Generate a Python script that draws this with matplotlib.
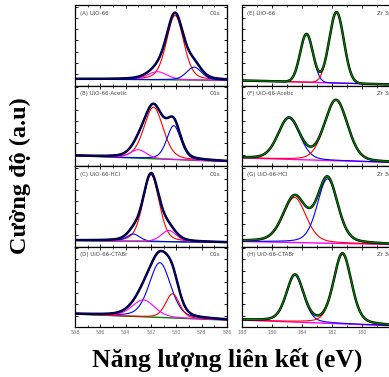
import numpy as np
import matplotlib
matplotlib.use("Agg")
import matplotlib.pyplot as plt
from matplotlib.ticker import MultipleLocator, NullFormatter

# O1s fits (left column): peak centre (eV), height, FWHM (eV) for each component
o1s_labels = ["(A) UiO-66", "(B) UiO-66-Acetic", "(C) UiO-66-HCl", "(D) UiO-66-CTABr"]
o1s_centers = [[530.1, 531.5, 528.6], [531.8, 530.2, 533.0],
               [532.0, 533.4, 530.6], [531.3, 530.3, 532.6]]
o1s_heights = [[0.80, 0.10, 0.16], [0.64, 0.42, 0.105],
               [0.83, 0.09, 0.14], [0.68, 0.30, 0.21]]
o1s_fwhm = [[1.6, 1.8, 1.4], [1.8, 1.3, 1.5],
            [1.5, 1.2, 1.4], [2.0, 1.3, 2.1]]
o1s_bg = [(0.08, 0.065), (0.127, 0.056), (0.075, 0.05), (0.16, 0.086)]
o1s_mix = [0.3, 0.3, 0.3, 0.3]

# Zr 3d fits (right column)
zr_labels = ["(E) UiO-66", "(F) UiO-66-Acetic", "(G) UiO-66-HCl", "(H) UiO-66-CTABr"]
zr_centers = [[183.7, 181.7], [184.87, 181.73], [184.5, 182.3], [184.47, 181.3]]
zr_heights = [[0.60, 0.88], [0.51, 0.75], [0.56, 0.80], [0.58, 0.87]]
zr_fwhm = [[1.0, 1.15], [1.7, 1.8], [1.8, 1.6], [1.35, 1.4]]
zr_bg = [(0.0625, 0.0125), (0.10, 0.045), (0.0625, 0.025), (0.086, 0.016)]
zr_mix = [0.0, 0.2, 0.3, 0.3]

o1s_colors = [["red", "magenta", "blue"], ["red", "blue", "magenta"],
              ["red", "blue", "magenta"], ["blue", "red", "magenta"]]
zr_colors = [["blue", "red"], ["blue", "red"], ["red", "blue"], ["blue", "red"]]


def pv(x, c, h, w, eta):
    sig = w / 2.3548
    g = np.exp(-(x - c) ** 2 / (2 * sig ** 2))
    l = 1.0 / (1.0 + ((x - c) / (w / 2)) ** 2)
    return h * (eta * l + (1 - eta) * g)


W, H = 389, 377
fig = plt.figure(figsize=(W / 100, H / 100), dpi=100)

row_top, row_h = 5, 80.5


def make_ax(px_left, px_width, row):
    top = row_top + row * row_h
    return fig.add_axes([px_left / W, 1 - (top + row_h) / H, px_width / W, row_h / H])


def style(ax, last):
    ax.tick_params(direction="in", top=True, right=True, length=2, width=0.6,
                   labelsize=3.5, labelcolor="#777777", pad=2)
    ax.tick_params(which="minor", direction="in", top=True, right=True, length=1.2, width=0.5)
    ax.xaxis.set_major_locator(MultipleLocator(2))
    ax.xaxis.set_minor_locator(MultipleLocator(1))
    ax.yaxis.set_major_locator(MultipleLocator(0.14))
    ax.yaxis.set_major_formatter(NullFormatter())
    if not last:
        ax.xaxis.set_major_formatter(NullFormatter())
    for s in ax.spines.values():
        s.set_linewidth(0.9)
    ax.set_ylim(0, 1)


x1 = np.linspace(538, 526, 600)
x2 = np.linspace(188, 178, 600)

for i in range(4):
    # O1s panel
    ax = make_ax(75, 152, i)
    bg = o1s_bg[i][0] + (o1s_bg[i][1] - o1s_bg[i][0]) * (538 - x1) / 12
    total = bg.copy()
    comps = []
    for c, h, w in zip(o1s_centers[i], o1s_heights[i], o1s_fwhm[i]):
        p = pv(x1, c, h, w, o1s_mix[i])
        comps.append(p)
        total += p
    ax.plot(x1, bg, color="#008000", lw=1.0)
    for p, col in zip(comps, o1s_colors[i]):
        ax.plot(x1, bg + p, color=col, lw=0.8)
    ax.plot(x1, total, color="black", lw=1.8)
    ax.plot(x1, total, color="#000080", lw=1.0)
    ax.set_xlim(538, 526)
    style(ax, i == 3)
    ax.text(0.03, 0.9, o1s_labels[i], transform=ax.transAxes, fontsize=4, color="#444444", va="center")
    ax.text(0.955, 0.9, "O1s", transform=ax.transAxes, fontsize=4, color="#444444", va="center", ha="right")

    # Zr 3d panel
    ax = make_ax(242, 150, i)
    bg = zr_bg[i][0] + (zr_bg[i][1] - zr_bg[i][0]) * (188 - x2) / 10
    total = bg.copy()
    comps = []
    for c, h, w in zip(zr_centers[i], zr_heights[i], zr_fwhm[i]):
        p = pv(x2, c, h, w, zr_mix[i])
        comps.append(p)
        total += p
    ax.plot(x2, bg, color="magenta", lw=1.0)
    for p, col in zip(comps, zr_colors[i]):
        ax.plot(x2, bg + p, color=col, lw=0.8)
    ax.plot(x2, total, color="black", lw=1.8)
    ax.plot(x2, total, color="#008000", lw=0.9)
    ax.set_xlim(188, 178)
    style(ax, i == 3)
    ax.text(0.03, 0.9, zr_labels[i], transform=ax.transAxes, fontsize=4, color="#444444", va="center")
    ax.text(0.9, 0.9, "Zr 3d", transform=ax.transAxes, fontsize=4, color="#444444", va="center", ha="left")

fig.text(20 / W, 1 - 176 / H, "Cường độ (a.u)", rotation=90, ha="center", va="center",
         family="Liberation Serif", weight="bold", fontsize=17.5)
fig.text(227 / W, 1 - 360 / H, "Năng lượng liên kết (eV)", ha="center", va="center",
         family="Liberation Serif", weight="bold", fontsize=18.5)

fig.savefig("out.png", dpi=100)
